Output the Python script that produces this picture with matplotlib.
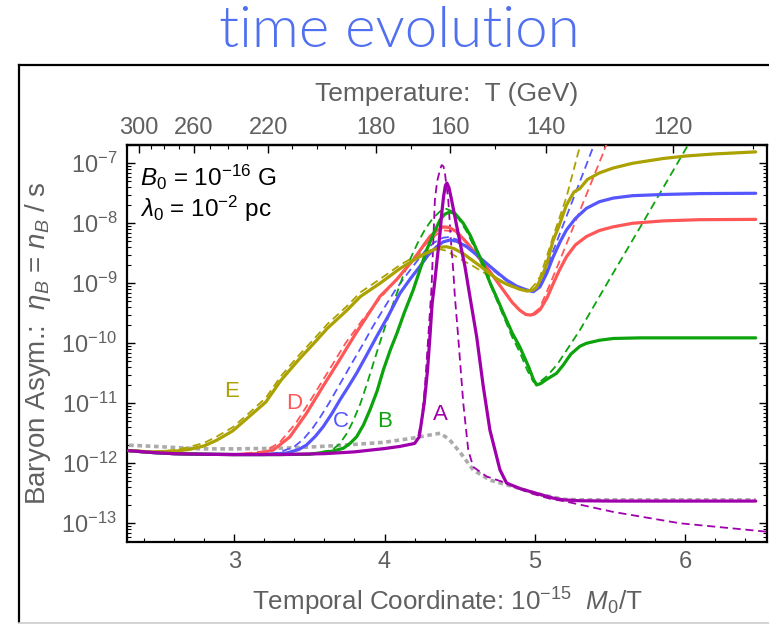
import numpy as np
import matplotlib
matplotlib.use("Agg")
import matplotlib.pyplot as plt
from matplotlib.ticker import FixedLocator, LogLocator, NullFormatter, MultipleLocator, FuncFormatter
from matplotlib.lines import Line2D

plt.rcParams['font.family'] = ['Liberation Sans', 'DejaVu Sans']
plt.rcParams['mathtext.fontset'] = 'custom'
plt.rcParams['mathtext.rm'] = 'Liberation Sans'
plt.rcParams['mathtext.it'] = 'Liberation Sans:italic'
plt.rcParams['mathtext.bf'] = 'Liberation Sans:bold'

# 1e-15 M0 in GeV: temporal coordinate x = M0 / T
M0_SCALED = 710.0

# ---- curves: x = 1e-15 M0/T, values are log10(eta_B) ----
a_solid_x = [2.30, 2.45, 2.60, 2.80, 3.00, 3.30, 3.60, 3.80, 4.00, 4.10, 4.20, 4.231, 4.264,
             4.286, 4.302, 4.317, 4.333, 4.35, 4.369, 4.38, 4.393, 4.405, 4.415, 4.428, 4.446,
             4.49, 4.535, 4.568, 4.613, 4.657, 4.701, 4.768, 4.812, 4.90, 4.967, 5.05, 5.12,
             5.19, 5.30, 5.52, 6.00, 6.47]
a_solid_log = [-11.79, -11.82, -11.84, -11.85, -11.855, -11.855, -11.84, -11.81, -11.755, -11.72,
               -11.67, -11.56, -11.0, -10.45, -9.89, -9.33, -9.0, -8.6, -8.17, -7.85, -7.55,
               -7.37, -7.33, -7.4, -7.61, -8.17, -8.72, -9.22, -9.89, -10.72, -11.445, -12.11,
               -12.33, -12.42, -12.47, -12.53, -12.58, -12.61, -12.625, -12.63, -12.63, -12.63]

a_dash_x = [2.30, 2.45, 2.60, 2.80, 3.00, 3.30, 3.60, 3.80, 4.00, 4.10, 4.20, 4.22, 4.247, 4.269,
            4.291, 4.313, 4.335, 4.35, 4.369, 4.38, 4.392, 4.402, 4.424, 4.446, 4.457, 4.468,
            4.49, 4.524, 4.557, 4.59, 4.679, 4.75, 4.812, 4.90, 5.00, 5.10, 5.21, 5.52, 5.965, 6.54]
a_dash_log = [-11.79, -11.82, -11.84, -11.85, -11.855, -11.855, -11.84, -11.81, -11.755, -11.72,
              -11.67, -11.6, -11.28, -10.72, -9.89, -9.06, -7.61, -7.3, -7.11, -7.03, -7.05,
              -7.17, -7.61, -8.44, -8.78, -9.22, -9.89, -11.0, -11.78, -12.06, -12.22, -12.28,
              -12.33, -12.43, -12.52, -12.59, -12.64, -12.81, -13.0, -13.14]

b_solid_x = [2.30, 2.45, 2.60, 2.80, 3.00, 3.30, 3.50, 3.65, 3.726, 3.77, 3.814, 3.86, 3.903,
             3.95, 3.992, 4.04, 4.08, 4.13, 4.191, 4.235, 4.28, 4.33, 4.369, 4.40, 4.435, 4.47,
             4.524, 4.57, 4.613, 4.66, 4.70, 4.75, 4.80, 4.85, 4.90, 4.96, 4.99, 5.012, 5.04,
             5.08, 5.145, 5.19, 5.24, 5.30, 5.344, 5.43, 5.522, 5.70, 6.47]
b_solid_log = [-11.79, -11.82, -11.84, -11.85, -11.855, -11.855, -11.85, -11.80, -11.75, -11.67,
               -11.56, -11.36, -11.11, -10.8, -10.445, -10.1, -9.85, -9.5, -9.11, -8.78, -8.445,
               -8.15, -7.945, -7.85, -7.81, -7.84, -8.0, -8.2, -8.445, -8.7, -8.98, -9.26, -9.55,
               -9.83, -10.06, -10.4, -10.6, -10.695, -10.67, -10.6, -10.5, -10.36, -10.18, -10.05,
               -10.0, -9.95, -9.92, -9.91, -9.91]

b_dash_x = [2.30, 2.45, 2.60, 2.80, 3.00, 3.30, 3.50, 3.65, 3.70, 3.75, 3.79, 3.84, 3.88, 3.93,
            3.97, 4.02, 4.07, 4.12, 4.17, 4.22, 4.27, 4.32, 4.37, 4.41, 4.45, 4.50, 4.55, 4.60,
            4.65, 4.70, 4.75, 4.80, 4.85, 4.90, 4.95, 4.99, 5.02, 5.08, 5.15, 5.30, 5.50, 5.70,
            5.90, 6.03]
b_dash_log = [-11.79, -11.82, -11.84, -11.85, -11.855, -11.855, -11.85, -11.78, -11.68, -11.5,
              -11.3, -11.0, -10.7, -10.3, -9.98, -9.6, -9.25, -8.9, -8.6, -8.33, -8.1, -7.92,
              -7.8, -7.76, -7.8, -7.95, -8.15, -8.42, -8.7, -9.0, -9.3, -9.6, -9.9, -10.15,
              -10.45, -10.64, -10.67, -10.55, -10.35, -9.78, -8.92, -8.07, -7.21, -6.65]

c_solid_x = [2.30, 2.45, 2.60, 2.80, 3.00, 3.20, 3.348, 3.43, 3.481, 3.54, 3.592, 3.65, 3.703,
             3.76, 3.814, 3.88, 3.947, 4.03, 4.102, 4.17, 4.235, 4.29, 4.347, 4.39, 4.435, 4.48,
             4.546, 4.61, 4.679, 4.75, 4.812, 4.88, 4.945, 4.99, 5.034, 5.08, 5.122, 5.17,
             5.211, 5.27, 5.344, 5.43, 5.522, 5.65, 5.855, 6.10, 6.47]
c_solid_log = [-11.79, -11.82, -11.84, -11.85, -11.855, -11.855, -11.83, -11.77, -11.695, -11.55,
               -11.39, -11.17, -10.945, -10.72, -10.5, -10.2, -9.89, -9.52, -9.17, -8.93, -8.72,
               -8.53, -8.39, -8.31, -8.28, -8.3, -8.39, -8.52, -8.67, -8.82, -8.945, -9.05,
               -9.11, -9.14, -9.06, -8.83, -8.56, -8.3, -8.11, -7.92, -7.75, -7.64, -7.58,
               -7.54, -7.52, -7.505, -7.5]

c_dash_x = [2.30, 2.45, 2.60, 2.80, 3.00, 3.20, 3.30, 3.40, 3.46, 3.52, 3.57, 3.63, 3.68, 3.74,
            3.79, 3.86, 3.92, 4.00, 4.07, 4.14, 4.21, 4.27, 4.33, 4.39, 4.43, 4.48, 4.546,
            4.61, 4.679, 4.75, 4.812, 4.88, 4.94, 4.98, 5.02, 5.06, 5.15, 5.25, 5.35, 5.40]
c_dash_log = [-11.79, -11.82, -11.84, -11.85, -11.855, -11.855, -11.82, -11.72, -11.6, -11.42,
              -11.24, -11.0, -10.78, -10.52, -10.3, -10.0, -9.73, -9.4, -9.12, -8.88, -8.65,
              -8.46, -8.32, -8.24, -8.23, -8.27, -8.38, -8.52, -8.68, -8.84, -8.96, -9.07,
              -9.13, -9.13, -9.04, -8.86, -8.28, -7.63, -6.98, -6.65]

d_solid_x = [2.30, 2.45, 2.60, 2.80, 3.00, 3.15, 3.26, 3.37, 3.48, 3.59, 3.70, 3.81, 3.969,
             4.08, 4.191, 4.302, 4.35, 4.39, 4.43, 4.479, 4.55, 4.62, 4.70, 4.78, 4.85, 4.90,
             4.94, 4.97, 5.00, 5.035, 5.08, 5.12, 5.16, 5.21, 5.27, 5.344, 5.43, 5.52, 5.65,
             5.855, 6.10, 6.47]
d_solid_log = [-11.79, -11.82, -11.84, -11.85, -11.855, -11.84, -11.78, -11.56, -11.17, -10.72,
               -10.28, -9.83, -9.22, -8.94, -8.61, -8.22, -8.12, -8.06, -8.07, -8.14, -8.33,
               -8.55, -8.8, -9.08, -9.32, -9.45, -9.52, -9.53, -9.51, -9.44, -9.25, -9.02,
               -8.8, -8.56, -8.36, -8.22, -8.12, -8.06, -8.0, -7.96, -7.94, -7.935]

d_dash_x = [2.30, 2.45, 2.60, 2.80, 3.00, 3.20, 3.30, 3.41, 3.52, 3.63, 3.74, 3.85, 3.96, 4.08,
            4.19, 4.28, 4.35, 4.40, 4.45, 4.50, 4.56, 4.63, 4.70, 4.78, 4.85, 4.90, 4.95, 4.99,
            5.03, 5.07, 5.15, 5.25, 5.35, 5.45, 5.48]
d_dash_log = [-11.79, -11.82, -11.84, -11.85, -11.855, -11.80, -11.66, -11.33, -10.9, -10.45,
              -10.0, -9.62, -9.28, -8.93, -8.6, -8.33, -8.18, -8.12, -8.13, -8.2, -8.35, -8.57,
              -8.8, -9.08, -9.32, -9.46, -9.52, -9.5, -9.42, -9.2, -8.72, -8.1, -7.48, -6.86,
              -6.66]

e_solid_x = [2.30, 2.45, 2.60, 2.70, 2.80, 2.88, 2.99, 3.10, 3.21, 3.31, 3.43, 3.53, 3.62, 3.75,
             3.84, 3.97, 4.10, 4.19, 4.26, 4.32, 4.37, 4.41, 4.46, 4.52, 4.58, 4.64, 4.70, 4.75,
             4.80, 4.86, 4.90, 4.95, 4.99, 5.01, 5.045, 5.08, 5.12, 5.16, 5.21, 5.26, 5.30,
             5.35, 5.43, 5.52, 5.65, 5.855, 6.00, 6.19, 6.47]
e_solid_log = [-11.79, -11.81, -11.80, -11.77, -11.71, -11.62, -11.46, -11.22, -10.98, -10.62,
               -10.27, -10.0, -9.75, -9.45, -9.22, -9.0, -8.76, -8.62, -8.52, -8.45, -8.40,
               -8.39, -8.42, -8.50, -8.61, -8.72, -8.84, -8.93, -9.0, -9.06, -9.10, -9.13,
               -9.11, -9.07, -8.9, -8.68, -8.3, -8.05, -7.7, -7.48, -7.42, -7.27, -7.16,
               -7.08, -7.0, -6.92, -6.88, -6.845, -6.81]

e_dash_x = [2.30, 2.45, 2.60, 2.70, 2.80, 2.88, 2.99, 3.10, 3.21, 3.31, 3.43, 3.53, 3.62, 3.75,
            3.84, 3.97, 4.10, 4.19, 4.26, 4.32, 4.36, 4.40, 4.46, 4.52, 4.58, 4.64, 4.70, 4.76,
            4.82, 4.88, 4.93, 4.97, 5.00, 5.035, 5.08, 5.122, 5.211, 5.29, 5.31]
e_dash_log = [-11.79, -11.81, -11.78, -11.73, -11.66, -11.56, -11.40, -11.16, -10.91, -10.55,
              -10.2, -9.93, -9.68, -9.38, -9.15, -8.93, -8.7, -8.57, -8.48, -8.44, -8.43, -8.45,
              -8.53, -8.62, -8.7, -8.79, -8.88, -8.96, -9.03, -9.09, -9.12, -9.1, -9.02, -8.89,
              -8.55, -8.22, -7.56, -6.81, -6.65]

ref_x = [2.30, 2.40, 2.55, 2.77, 3.00, 3.30, 3.50, 3.75, 4.00, 4.19, 4.30, 4.37, 4.43, 4.50,
         4.59, 4.70, 4.857, 5.00, 5.189, 5.30, 6.47]
ref_log = [-11.70, -11.71, -11.73, -11.76, -11.76, -11.75, -11.73, -11.695, -11.65, -11.58,
           -11.53, -11.5, -11.6, -11.81, -12.11, -12.28, -12.39, -12.5, -12.6, -12.61, -12.61]

# curve labels and their positions
curve_names = ['A', 'B', 'C', 'D', 'E']
label_x = [4.37, 4.0, 3.71, 3.40, 2.98]
label_log = [-11.19, -11.31, -11.31, -11.0, -10.81]

# axes ranges and tick labels
x_range = (2.286, 6.545)
log_range = (-13.307, -6.695)
x_major = [3, 4, 5, 6]
y_major = [1e-13, 1e-12, 1e-11, 1e-10, 1e-9, 1e-8, 1e-7]
temp_major = [300, 260, 220, 180, 160, 140, 120]
temp_minor = list(range(110, 301, 10))

colors = {'A': '#a000ac', 'B': '#0ca30c', 'C': '#5656ff', 'D': '#ff5757', 'E': '#aba100'}
gray = '#ababab'
text_gray = '#606060'

series = {
    'A': (a_solid_x, a_solid_log, a_dash_x, a_dash_log),
    'B': (b_solid_x, b_solid_log, b_dash_x, b_dash_log),
    'C': (c_solid_x, c_solid_log, c_dash_x, c_dash_log),
    'D': (d_solid_x, d_solid_log, d_dash_x, d_dash_log),
    'E': (e_solid_x, e_solid_log, e_dash_x, e_dash_log),
}

fig = plt.figure(figsize=(7.69, 6.26), dpi=100)
ax = fig.add_axes([0.1651, 0.1347, 0.9974 - 0.1651, 0.7684 - 0.1347])
ax.set_yscale('log')

ax.plot(ref_x, 10.0 ** np.asarray(ref_log), color=gray, lw=2.6,
        linestyle=(0, (1.3, 1.0)), zorder=2)

stack = {'D': 3, 'C': 4, 'B': 5, 'E': 6, 'A': 7}
for name in ['D', 'C', 'B', 'E', 'A']:
    sx, sl, dx, dl = series[name]
    ax.plot(dx, 10.0 ** np.asarray(dl), color=colors[name], lw=1.3,
            linestyle=(0, (4.5, 2.6)), zorder=stack[name])
for name in ['D', 'C', 'B', 'E', 'A']:
    sx, sl, dx, dl = series[name]
    ax.plot(sx, 10.0 ** np.asarray(sl), color=colors[name], lw=2.3,
            solid_capstyle='round', zorder=stack[name] + 5)

for name, lx, ll in zip(curve_names, label_x, label_log):
    ax.text(lx, 10.0 ** ll, name, color=colors[name], fontsize=16,
            ha='center', va='center', zorder=20)

ax.set_xlim(*x_range)
ax.set_ylim(10.0 ** log_range[0], 10.0 ** log_range[1])

ax.xaxis.set_major_locator(FixedLocator(x_major))
ax.xaxis.set_minor_locator(MultipleLocator(0.2))
ax.yaxis.set_major_locator(FixedLocator(y_major))
ax.yaxis.set_minor_locator(LogLocator(base=10, subs=np.arange(2, 10), numticks=20))
ax.yaxis.set_minor_formatter(NullFormatter())

ax.tick_params(which='both', direction='in', top=False, right=True,
               colors='black', labelcolor=text_gray, labelsize=17)
ax.tick_params(which='major', length=6, width=1.0)
ax.tick_params(which='minor', length=3.2, width=0.8)
ax.tick_params(axis='x', pad=7)
ax.tick_params(axis='y', pad=7)
for sp in ax.spines.values():
    sp.set_linewidth(1.6)
    sp.set_color('black')


def to_temp(v):
    v = np.asarray(v, dtype=float)
    with np.errstate(divide='ignore'):
        return M0_SCALED / v


secax = ax.secondary_xaxis('top', functions=(to_temp, to_temp))
secax.xaxis.set_major_locator(FixedLocator(temp_major))
secax.xaxis.set_minor_locator(FixedLocator(temp_minor))
secax.xaxis.set_major_formatter(FuncFormatter(lambda v, p: f"{v:.0f}"))
secax.tick_params(which='both', direction='in', colors='black', labelcolor=text_gray,
                  labelsize=17, pad=4)
secax.tick_params(which='major', length=6, width=1.0)
secax.tick_params(which='minor', length=3.2, width=0.8)
secax.spines['top'].set_linewidth(1.6)
secax.set_xlabel('Temperature:  T (GeV)', fontsize=19, color=text_gray, labelpad=12)

ax.set_xlabel(r'Temporal Coordinate: $10^{-15}$  $M_0$/T', fontsize=18.7,
              color=text_gray, labelpad=9)
ax.set_ylabel(r'Baryon Asym.:  $\eta_B$ = $n_B$ / s', fontsize=20,
              color=text_gray, labelpad=6)

ax.text(0.02, 0.918, r'$B_0$ = 10$^{-16}$ G', transform=ax.transAxes,
        fontsize=17.5, color='black', ha='left', va='center')
ax.text(0.02, 0.838, r'$\lambda_0$ = 10$^{-2}$ pc', transform=ax.transAxes,
        fontsize=17.5, color='black', ha='left', va='center')

# panel frame and heading
fig.add_artist(Line2D([0.0247, 0.0247], [0.006, 0.8962], transform=fig.transFigure,
                      color='black', lw=1.6))
fig.add_artist(Line2D([0.0247, 1.0], [0.8962, 0.8962], transform=fig.transFigure,
                      color='black', lw=1.6))
fig.add_artist(Line2D([0.0247, 1.0], [0.004, 0.004], transform=fig.transFigure,
                      color='#cccccc', lw=1.2))
fig.text(0.519, 0.950, 'time evolution', fontsize=42, color='#5170f0', fontweight=300,
         family=['Lato', 'DejaVu Sans'], ha='center', va='center')

fig.savefig('out.png', dpi=100)
